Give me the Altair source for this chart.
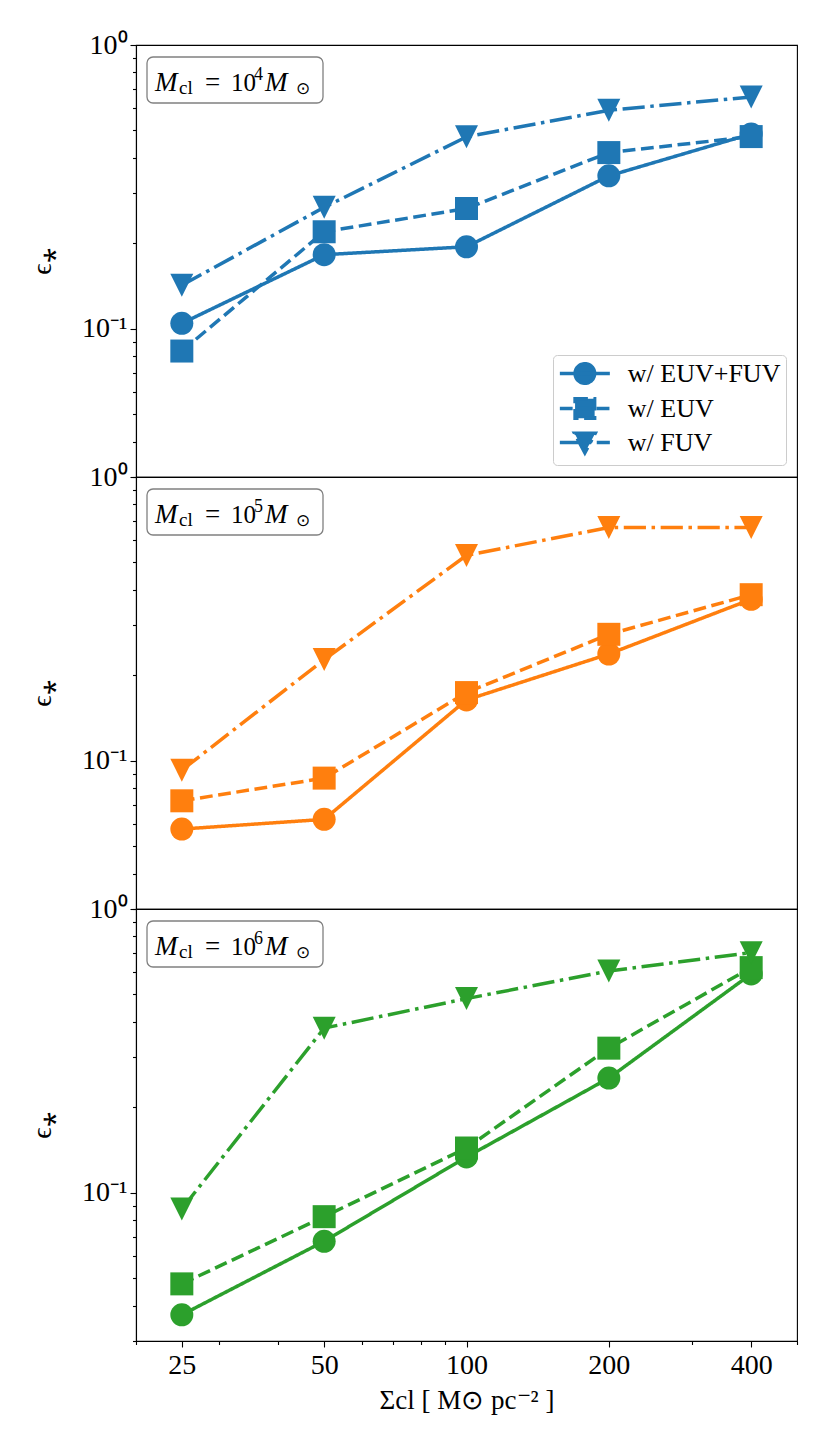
import altair as alt
import pandas as pd

SERIF = "Liberation Serif"

sigma = [25, 50, 100, 200, 400]
series = ["w/ EUV+FUV", "w/ EUV", "w/ FUV"]

m4_euv_fuv = [0.1044, 0.1823, 0.1944, 0.3457, 0.4859]
m4_euv = [0.0834, 0.2196, 0.2652, 0.4176, 0.4755]
m4_fuv = [0.1423, 0.2678, 0.4744, 0.5888, 0.656]

m5_euv_fuv = [0.0574, 0.0621, 0.1637, 0.2377, 0.3705]
m5_euv = [0.0722, 0.0868, 0.1738, 0.2789, 0.3847]
m5_fuv = [0.0926, 0.2271, 0.5292, 0.664, 0.664]

m6_euv_fuv = [0.0371, 0.0674, 0.1336, 0.2534, 0.5903]
m6_euv = [0.0477, 0.0823, 0.1437, 0.3232, 0.6214]
m6_fuv = [0.0876, 0.3802, 0.4832, 0.6046, 0.7018]

panel_exponents = ["4", "5", "6"]
panel_colors = ["#1f77b4", "#ff7f0e", "#2ca02c"]

x_major = [25, 50, 100, 200, 400]
x_minor = [20, 30, 40, 60, 70, 80, 90, 300, 500]
y_major = [0.1, 1]
y_minor = [0.03, 0.04, 0.05, 0.06, 0.07, 0.08, 0.09,
           0.2, 0.3, 0.4, 0.5, 0.6, 0.7, 0.8, 0.9]

W, H = 661, 432

dash_scale = alt.Scale(domain=series,
                       range=[[1, 0], [12.8, 5.6], [22.2, 5.6, 3.5, 5.6]])
marker_shapes = ["circle", "square", "M-1,-1L1,-1L0,1Z"]

# legend glyphs: a line segment with the marker in its middle
sym_paths = {
    "w/ EUV+FUV": "M-1.013,0H3.335M2.011,0A0.85,0.85,0,1,1,0.311,0A0.85,0.85,0,1,1,2.011,0Z",
    "w/ EUV": "M-1.013,0H3.335M0.311,-0.85H2.011V0.85H0.311Z",
    "w/ FUV": "M-1.013,0H3.335M0.261,-0.8H2.061L1.161,0.9Z",
}
shape_expr = ("datum.value == 'w/ EUV+FUV' ? '%s' : (datum.value == 'w/ EUV' ? '%s' : '%s')"
              % (sym_paths[series[0]], sym_paths[series[1]], sym_paths[series[2]]))

x_scale = alt.Scale(type="log", domain=[20, 500], nice=False)
y_scale = alt.Scale(type="log", domain=[0.03, 1], nice=False)

y_axis = alt.Axis(
    values=y_minor + y_major,
    tickSize={"condition": {"test": "datum.value == 1 || datum.value == 0.1", "value": 6},
              "value": 3.5},
    labelExpr="datum.value == 1 ? '10⁰' : (datum.value == 0.1 ? '10⁻¹' : '')",
    labelOverlap=False, labelFlush=False, labelPadding=3,
    labelFont=SERIF, labelFontSize=28, labelColor="black",
    title="ϵ⁎", titleFont=SERIF, titleFontSize=28, titleFontWeight="normal",
    titleColor="black", titlePadding=25,
    grid=False, domainColor="black", domainWidth=1.1, tickColor="black", tickWidth=1.1,
)

x_axis = alt.Axis(
    values=x_minor + x_major,
    tickSize={"condition": {"test": "indexof([25,50,100,200,400], datum.value) >= 0", "value": 6},
              "value": 3.5},
    labelExpr="indexof([25,50,100,200,400], datum.value) >= 0 ? format(datum.value, 'd') : ''",
    labelOverlap=False, labelFlush=False, labelPadding=4,
    labelFont=SERIF, labelFontSize=28, labelColor="black",
    title="Σcl [ M⊙ pc⁻² ]", titleFont=SERIF, titleFontSize=27, titleFontWeight="normal",
    titleColor="black", titlePadding=8,
    grid=False, domainColor="black", domainWidth=1.1, tickColor="black", tickWidth=1.1,
)

one_row = alt.Data(values=[{"k": 1}])


def label_layers(exponent):
    box = alt.Chart(one_row).mark_rect(
        fill="white", stroke="#808080", strokeWidth=1.3, cornerRadius=6
    ).encode(x=alt.value(11), x2=alt.value(187), y=alt.value(12), y2=alt.value(58))
    pieces = [
        ("M", 19, 45.7, 27, "italic"),
        ("cl", 43, 48.5, 19, "normal"),
        ("=", 69, 45.7, 27, "normal"),
        ("10", 95, 45.7, 25, "normal"),
        (exponent, 118, 35, 18, "normal"),
        ("M", 129, 45.7, 27, "italic"),
        ("⊙", 160, 49, 17, "normal"),
    ]
    layers = [box]
    for txt, px, py, fs, style in pieces:
        layers.append(
            alt.Chart(one_row).mark_text(
                align="left", baseline="alphabetic", font=SERIF, fontSize=fs,
                fontStyle=style, color="black"
            ).encode(x=alt.value(px), y=alt.value(py), text=alt.value(txt))
        )
    return layers


def panel(idx, values, show_x, show_legend):
    color = panel_colors[idx]
    rows = []
    for s, vals in zip(series, values):
        for xv, yv in zip(sigma, vals):
            rows.append({"sigma": xv, "eps": yv, "series": s})
    df = pd.DataFrame(rows)
    base = alt.Chart(df)
    x_enc = alt.X("sigma:Q", scale=x_scale, axis=x_axis if show_x else None)
    y_enc = alt.Y("eps:Q", scale=y_scale, axis=y_axis)
    if show_legend:
        legend = alt.Legend(
            title=None, orient="none", legendX=417, legendY=310, direction="vertical",
            labelFont=SERIF, labelFontSize=26, labelColor="black", labelOffset=42.8,
            symbolSize=529, symbolStrokeWidth=3.5, symbolStrokeColor=color,
            symbolFillColor=color, symbolType={"expr": shape_expr},
            rowPadding=0, padding=5,
            fillColor="rgba(255,255,255,0.8)", strokeColor="#cccccc", cornerRadius=4,
        )
    else:
        legend = None
    lines = base.mark_line(strokeWidth=3.5, color=color).encode(
        x=x_enc, y=y_enc,
        strokeDash=alt.StrokeDash("series:N", scale=dash_scale, legend=legend),
    )
    point_layers = []
    for s, shp in zip(series, marker_shapes):
        point_layers.append(
            base.transform_filter(alt.datum.series == s).mark_point(
                filled=True, size=529, opacity=1, color=color, shape=shp
            ).encode(x=x_enc, y=y_enc)
        )
    return alt.layer(lines, *point_layers, *label_layers(panel_exponents[idx])).properties(
        width=W, height=H
    )


p1 = panel(0, [m4_euv_fuv, m4_euv, m4_fuv], False, True)
p2 = panel(1, [m5_euv_fuv, m5_euv, m5_fuv], False, False)
p3 = panel(2, [m6_euv_fuv, m6_euv, m6_fuv], True, False)

chart = alt.vconcat(p1, p2, p3, spacing=0, bounds="flush").resolve_scale(
    strokeDash="independent"
).configure_view(stroke="black", strokeWidth=1.1).properties(
    padding={"left": 20, "top": 22, "right": 5, "bottom": 5}
)

chart.save("out.html", embed_options={"renderer": "svg", "actions": False})
